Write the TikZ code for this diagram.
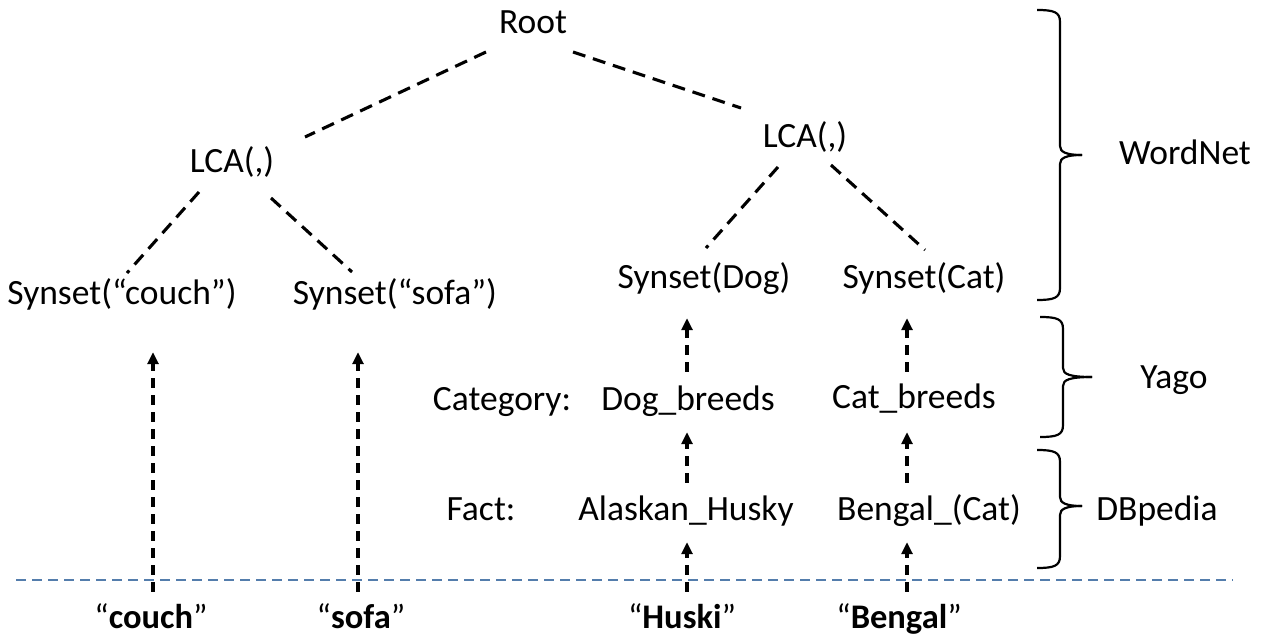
\documentclass[tikz,border=0pt]{standalone}
\usepackage{fontspec}
\setmainfont{Carlito}
\usetikzlibrary{arrows.meta}
\begin{document}
\begin{tikzpicture}[x=1pt,y=-1pt,
  lbl/.style={anchor=base,inner sep=0pt,text height=24pt,text depth=8pt,
              font=\fontsize{35.5}{42}\selectfont},
  wordlbl/.style={lbl,font=\fontsize{34.5}{42}\selectfont},
  tree/.style={line width=3.1pt,dash pattern=on 13pt off 8pt},
  up/.style={line width=3.3pt,dash pattern=on 10pt off 7pt,
             shorten <=12pt,shorten >=14pt,
             -{Triangle[length=12pt,width=11pt]}},
  sidebrace/.style={line width=2.2pt},
  sep/.style={line width=1.9pt,color=sepblue,dash pattern=on 10pt off 6pt}]
\definecolor{sepblue}{RGB}{84,125,172}
\useasboundingbox (0,0) rectangle (1264,639);

% tree of synsets
\node[lbl] (root)  at (533,34)  {Root};
\node[lbl] (lcaL)  at (232,173) {LCA(,)};
\node[lbl] (lcaR)  at (805,148) {LCA(,)};
\node[lbl] (scouch) at (122,304) {Synset(“couch”)};
\node[lbl] (ssofa)  at (395,304) {Synset(“sofa”)};
\node[lbl] (sdog)   at (704,288) {Synset(Dog)};
\node[lbl] (scat)   at (924,288) {Synset(Cat)};

% Yago categories and DBpedia facts
\node[lbl] (cat)   at (502,410) {Category:};
\node[lbl] (dogb)  at (688,410) {Dog\_breeds};
\node[lbl] (catb)  at (914,408) {Cat\_breeds};
\node[lbl] (fact)  at (481,520) {Fact:};
\node[lbl] (husky) at (686,520) {Alaskan\_Husky};
\node[lbl] (beng)  at (929,520) {Bengal\_(Cat)};

% source names
\node[wordlbl] (wcouch) at (151,628) {“\textbf{couch}”};
\node[wordlbl] (wsofa)  at (361,628) {“\textbf{sofa}”};
\node[wordlbl] (whuski) at (682,628) {“\textbf{Huski}”};
\node[wordlbl] (wbeng)  at (899,628) {“\textbf{Bengal}”};

% layer names
\node[lbl] (wordnet) at (1185,165) {WordNet};
\node[lbl] (yago)    at (1174,388) {Yago};
\node[lbl] (dbp)     at (1157,520) {DBpedia};

% hypernym edges
\draw[tree] ([shift={(-47,18)}]root.base) -- ([shift={(73,-36)}]lcaL.base);
\draw[tree] ([shift={(40,18)}]root.base)  -- ([shift={(-64,-40)}]lcaR.base);
\draw[tree] ([shift={(-33,19)}]lcaL.base) -- ([shift={(5,-31)}]scouch.base);
\draw[tree] ([shift={(39,25)}]lcaL.base)  -- ([shift={(-43,-32)}]ssofa.base);
\draw[tree] ([shift={(-27,19)}]lcaR.base) -- ([shift={(2,-40)}]sdog.base);
\draw[tree] ([shift={(26,17)}]lcaR.base)  -- ([shift={(1,-38)}]scat.base);

% mapping columns
\coordinate (colA) at (153,0);
\coordinate (colB) at (358,0);
\coordinate (colC) at (687,0);
\coordinate (colD) at (907,0);

\draw[up,shorten >=40pt] (wcouch.north -| colA) -- (scouch.south -| colA);
\draw[up,shorten >=40pt] (wsofa.north -| colB)  -- (ssofa.south -| colB);

\draw[up] (whuski.north -| colC) -- (husky.south -| colC);
\draw[up,shorten <=13pt] (husky.north -| colC) -- (dogb.south -| colC);
\draw[up,shorten <=14pt,shorten >=22pt] (dogb.north -| colC) -- (sdog.south -| colC);

\draw[up] (wbeng.north -| colD) -- (beng.south -| colD);
\draw[up,shorten <=13pt,shorten >=16pt] (beng.north -| colD) -- (catb.south -| colD);
\draw[up,shorten >=22pt] (catb.north -| colD) -- (scat.south -| colD);

% separator between names and knowledge bases
\draw[sep] (16,580) -- (1233,580);

% layer braces
\draw[sidebrace] (1037,10) .. controls (1054,10) and (1060,12) .. (1060,22)
  -- (1060,146) .. controls (1060,152) and (1066,155) .. (1082,155);
\draw[sidebrace] (1082,155) .. controls (1066,155) and (1060,158) .. (1060,164)
  -- (1060,288) .. controls (1060,298) and (1054,300) .. (1037,300);

\draw[sidebrace] (1040,317) .. controls (1057,317) and (1063,319) .. (1063,329)
  -- (1063,368) .. controls (1063,374) and (1069,377) .. (1092,377);
\draw[sidebrace] (1092,377) .. controls (1069,377) and (1063,380) .. (1063,386)
  -- (1063,425) .. controls (1063,435) and (1057,437) .. (1040,437);

\draw[sidebrace] (1037,450) .. controls (1054,450) and (1060,452) .. (1060,462)
  -- (1060,497) .. controls (1060,503) and (1066,506) .. (1082,506);
\draw[sidebrace] (1082,506) .. controls (1066,506) and (1060,509) .. (1060,515)
  -- (1060,556) .. controls (1060,566) and (1054,568) .. (1037,568);
\end{tikzpicture}
\end{document}
